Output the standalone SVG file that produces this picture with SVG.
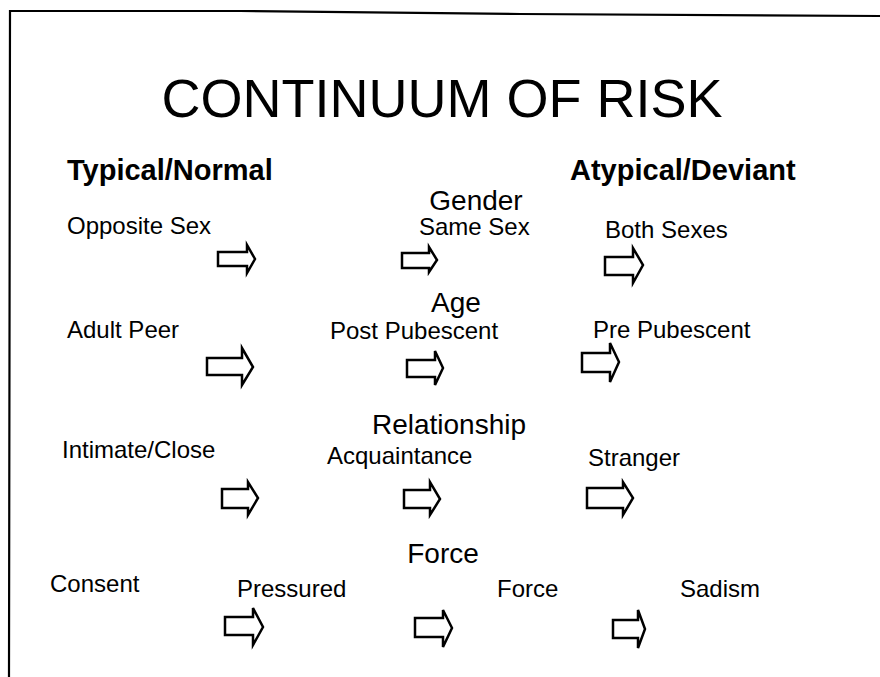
<svg xmlns="http://www.w3.org/2000/svg" width="880" height="677" viewBox="0 0 880 677">
<style>
text{font-family:"Liberation Sans",Arial,sans-serif;fill:#000}
.title{font-size:54px}
.side{font-size:29px;font-weight:bold}
.head{font-size:28px}
.lbl{font-size:24px}
.arrow{fill:#fff;stroke:#000;stroke-width:2.5;stroke-linejoin:miter}
.border{fill:none;stroke:#000;stroke-width:2.2}
</style>
<rect width="880" height="677" fill="#fff"/>
<path class="border" d="M9,677 L10,11 L240,11 L520,14 L880,16"/>
<g id="title"><text class="title" x="442" y="117" text-anchor="middle">CONTINUUM OF RISK</text></g>
<g id="typical"><text class="side" x="67" y="180">Typical/Normal</text></g>
<g id="atypical"><text class="side" x="570" y="180">Atypical/Deviant</text></g>
<g id="gender"><text class="head" x="476" y="210" text-anchor="middle">Gender</text></g>
<g id="opposite-sex"><text class="lbl" x="67" y="234">Opposite Sex</text></g>
<g id="same-sex"><text class="lbl" x="419" y="235">Same Sex</text></g>
<g id="both-sexes"><text class="lbl" x="605" y="238">Both Sexes</text></g>
<g id="age"><text class="head" x="456" y="312" text-anchor="middle">Age</text></g>
<g id="adult-peer"><text class="lbl" x="67" y="338">Adult Peer</text></g>
<g id="post-pubescent"><text class="lbl" x="330" y="339">Post Pubescent</text></g>
<g id="pre-pubescent"><text class="lbl" x="593" y="338">Pre Pubescent</text></g>
<g id="relationship"><text class="head" x="449" y="434" text-anchor="middle">Relationship</text></g>
<g id="intimate-close"><text class="lbl" x="62" y="458">Intimate/Close</text></g>
<g id="acquaintance"><text class="lbl" x="327" y="464">Acquaintance</text></g>
<g id="stranger"><text class="lbl" x="588" y="466">Stranger</text></g>
<g id="force-head"><text class="head" x="443" y="563" text-anchor="middle">Force</text></g>
<g id="consent"><text class="lbl" x="50" y="592">Consent</text></g>
<g id="pressured"><text class="lbl" x="237" y="597">Pressured</text></g>
<g id="force"><text class="lbl" x="497" y="597">Force</text></g>
<g id="sadism"><text class="lbl" x="680" y="597">Sadism</text></g>
<g id="connectors">
<polygon class="arrow" points="218,252 247,252 247,245 255,259 247,273 247,266 218,266"/>
<polygon class="arrow" points="402,253 429,253 429,247 437,260 429,272 429,268 402,268"/>
<polygon class="arrow" points="605,257 633,257 633,248 643,265 633,283 633,275 605,275"/>
<polygon class="arrow" points="207,358 242,358 242,348 253,367 242,385 242,375 207,375"/>
<polygon class="arrow" points="407,360 435,360 435,351 443,368 435,385 435,377 407,377"/>
<polygon class="arrow" points="582,353 610,353 610,343 619,362 610,382 610,372 582,372"/>
<polygon class="arrow" points="222,489 248,489 248,482 258,498 248,515 248,508 222,508"/>
<polygon class="arrow" points="404,490 430,490 430,482 440,499 430,515 430,508 404,508"/>
<polygon class="arrow" points="587,488 623,488 623,482 633,498 623,515 623,508 587,508"/>
<polygon class="arrow" points="225,617 253,617 253,608 263,627 253,645 253,635 225,635"/>
<polygon class="arrow" points="415,618 443,618 443,610 452,628 443,647 443,637 415,637"/>
<polygon class="arrow" points="613,620 638,620 638,610 645,629 638,648 638,638 613,638"/>
</g>
</svg>
